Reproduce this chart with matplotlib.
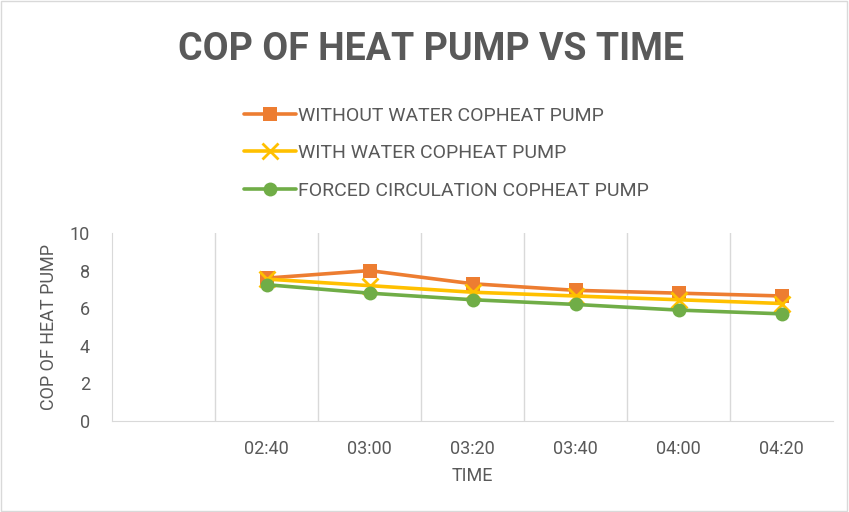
import matplotlib.pyplot as plt
from matplotlib import font_manager

names = {f.name for f in font_manager.fontManager.ttflist}
narrow = 'Liberation Sans Narrow' if 'Liberation Sans Narrow' in names else 'Roboto'
plt.rcParams['font.family'] = [narrow, 'DejaVu Sans']

# data
times = ['', '02:40', '03:00', '03:20', '03:40', '04:00', '04:20']
without_water = [7.6, 8.0, 7.3, 6.95, 6.8, 6.65]
with_water = [7.55, 7.2, 6.85, 6.65, 6.45, 6.25]
forced_circ = [7.25, 6.8, 6.45, 6.2, 5.9, 5.7]

labels = ['WITHOUT WATER COPHEAT PUMP', 'WITH WATER COPHEAT PUMP',
          'FORCED CIRCULATION COPHEAT PUMP']
colors = ['#ED7D31', '#FFC000', '#70AD47']
markers = ['s', 'x', 'o']

text_col = '#595959'
fig = plt.figure(figsize=(8.49, 5.12), dpi=100)
ax = fig.add_axes([112 / 849, 1 - 421 / 512, (833 - 112) / 849, (421 - 233) / 512])

x = list(range(1, len(times)))
for vals, lab, c, m in zip([without_water, with_water, forced_circ], labels, colors, markers):
    ax.plot(x, vals, color=c, lw=2.6, marker=m, ms=10 if m != 'x' else 11,
            mew=2 if m == 'x' else 0, mec=c, label=lab, solid_capstyle='round')

ax.set_xlim(-0.5, len(times) - 0.5)
ax.set_ylim(0, 10)
ax.set_yticks(range(0, 11, 2))
ax.set_xticks(range(len(times)))
ax.set_xticklabels(times)
for b in range(len(times) - 1):
    ax.axvline(b + 0.5, color='#d9d9d9', lw=1, zorder=0)
for s in ['top', 'right']:
    ax.spines[s].set_visible(False)
ax.spines['left'].set_color('#d9d9d9')
ax.spines['bottom'].set_color('#d9d9d9')
ax.tick_params(length=0, colors=text_col, labelsize=13)
ax.tick_params(axis='x', pad=14)
ax.tick_params(axis='y', pad=16)
ax.set_xlabel('TIME', color=text_col, fontsize=13, labelpad=6)
ax.set_ylabel('COP OF HEAT PUMP', color=text_col, fontsize=13, labelpad=8)

fig.text(431 / 849, 1 - 50 / 512, 'COP OF HEAT PUMP VS TIME', ha='center', va='center',
         fontsize=27, fontweight='bold', color=text_col)
leg = fig.legend(loc='upper left', bbox_to_anchor=(236 / 849, 1 - 99 / 512), frameon=False,
                 fontsize=14, labelspacing=1.0, handlelength=2.7, handletextpad=0.1,
                 borderaxespad=0)
for t in leg.get_texts():
    t.set_color(text_col)

fig.patches.append(plt.Rectangle((0.001, 0.001), 0.997, 0.997, transform=fig.transFigure,
                                 fill=False, ec='#d9d9d9', lw=1))
fig.savefig('out.png', dpi=100)
